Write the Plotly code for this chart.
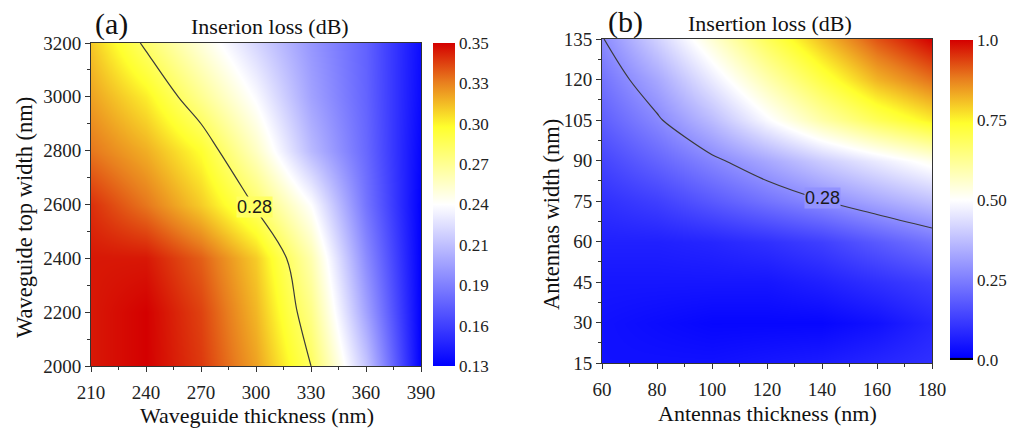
import plotly.graph_objects as go

# ---------------- Panel (a) data ----------------
a_thickness = [210, 240, 270, 300, 330, 360, 390]          # nm (x)
a_width = [2000, 2200, 2400, 2600, 2800, 3000, 3200]        # nm (y)
a_loss = [
    [0.345, 0.350, 0.338, 0.315, 0.280, 0.215, 0.130],  # 2000
    [0.345, 0.350, 0.336, 0.310, 0.270, 0.200, 0.130],  # 2200
    [0.345, 0.345, 0.330, 0.305, 0.260, 0.190, 0.130],  # 2400
    [0.340, 0.325, 0.305, 0.278, 0.240, 0.180, 0.130],  # 2600
    [0.325, 0.312, 0.292, 0.255, 0.210, 0.175, 0.132],  # 2800
    [0.315, 0.297, 0.268, 0.238, 0.200, 0.173, 0.134],  # 3000
    [0.306, 0.277, 0.249, 0.222, 0.195, 0.172, 0.135],  # 3200
]
a_cb_vals = [0.13, 0.1575, 0.185, 0.2125, 0.24, 0.2675, 0.295, 0.3225, 0.35]
a_cb_text = ["0.13", "0.16", "0.19", "0.21", "0.24", "0.27", "0.30", "0.33", "0.35"]
a_xticks = [210, 240, 270, 300, 330, 360, 390]
a_yticks = [2000, 2200, 2400, 2600, 2800, 3000, 3200]
a_label_pos = (299, 2590)

# ---------------- Panel (b) data ----------------
b_thickness = [60, 80, 100, 120, 140, 160, 180]
b_width = [15, 30, 45, 60, 75, 90, 105, 120, 135]
b_loss = [
    [0.04, 0.04, 0.04, 0.05, 0.06, 0.08, 0.10],    # 15
    [0.04, 0.03, 0.02, 0.02, 0.02, 0.04, 0.08],    # 30
    [0.05, 0.05, 0.05, 0.05, 0.07, 0.10, 0.13],    # 45
    [0.07, 0.07, 0.08, 0.10, 0.13, 0.18, 0.23],    # 60
    [0.10, 0.13, 0.18, 0.23, 0.277, 0.33, 0.38],   # 75
    [0.14, 0.20, 0.265, 0.33, 0.40, 0.46, 0.52],   # 90
    [0.19, 0.27, 0.37, 0.49, 0.60, 0.69, 0.76],    # 105
    [0.23, 0.33, 0.46, 0.59, 0.71, 0.82, 0.89],    # 120
    [0.275, 0.41, 0.55, 0.69, 0.81, 0.92, 1.00],   # 135
]
b_cb_vals = [0.0, 0.25, 0.5, 0.75, 1.0]
b_cb_text = ["0.0", "0.25", "0.50", "0.75", "1.0"]
b_xticks = [60, 80, 100, 120, 140, 160, 180]
b_yticks = [15, 30, 45, 60, 75, 90, 105, 120, 135]
b_label_pos = (140, 76)

contour_level = 0.28

W, H = 1011, 431
SERIF = "Liberation Serif, Times New Roman, serif"
SANS = "Liberation Sans, Arial, sans-serif"

def px(x):
    return x / W

def py(y):
    return 1 - y / H

cs_a = [[0.0, "rgb(0,0,255)"], [0.5, "rgb(255,255,255)"], [0.74, "rgb(255,255,45)"],
        [0.88, "rgb(232,125,30)"], [1.0, "rgb(212,0,0)"]]
cs_b = [[0.0, "rgb(0,0,0)"], [0.006, "rgb(0,0,0)"], [0.008, "rgb(0,0,255)"],
        [0.5, "rgb(255,255,255)"], [0.74, "rgb(255,255,45)"],
        [0.88, "rgb(232,125,30)"], [1.0, "rgb(212,0,0)"]]

fig = go.Figure()

fig.add_trace(go.Heatmap(
    x=a_thickness, y=a_width, z=a_loss, zsmooth="best",
    colorscale=cs_a, zmin=0.13, zmax=0.35, xaxis="x", yaxis="y",
    colorbar=dict(x=px(433), xanchor="left", xpad=0, y=py(204.5), yanchor="middle",
                  len=323, lenmode="pixels", thickness=22, ypad=0,
                  outlinewidth=0, ticks="", tickvals=a_cb_vals, ticktext=a_cb_text,
                  tickfont=dict(family=SERIF, size=17, color="#222")),
))
fig.add_trace(go.Contour(
    x=a_thickness, y=a_width, z=a_loss, xaxis="x", yaxis="y", showscale=False,
    contours=dict(coloring="none", start=contour_level, end=contour_level, size=0.01,
                  showlabels=False),
    line=dict(color="#3a3a3a", width=1.2), hoverinfo="skip",
))

fig.add_trace(go.Heatmap(
    x=b_thickness, y=b_width, z=b_loss, zsmooth="best",
    colorscale=cs_b, zmin=0.0, zmax=1.0, xaxis="x2", yaxis="y2",
    colorbar=dict(x=px(950), xanchor="left", xpad=0, y=py(200), yanchor="middle",
                  len=320, lenmode="pixels", thickness=23, ypad=0,
                  outlinewidth=0, ticks="", tickvals=b_cb_vals, ticktext=b_cb_text,
                  tickfont=dict(family=SERIF, size=17, color="#222")),
))
fig.add_trace(go.Contour(
    x=b_thickness, y=b_width, z=b_loss, xaxis="x2", yaxis="y2", showscale=False,
    contours=dict(coloring="none", start=contour_level, end=contour_level, size=0.01,
                  showlabels=False),
    line=dict(color="#3a3a3a", width=1.2), hoverinfo="skip",
))

axis_common = dict(showline=True, mirror=True, linecolor="#333", linewidth=1,
                   ticks="outside", ticklen=5, tickcolor="#333", tickwidth=1,
                   showgrid=False, zeroline=False,
                   tickfont=dict(family=SERIF, size=19, color="#222"))

fig.update_layout(
    width=W, height=H, margin=dict(l=0, r=0, t=0, b=0, autoexpand=False),
    paper_bgcolor="white", plot_bgcolor="white", showlegend=False,
    xaxis=dict(domain=[px(91), px(421)], range=[210, 390], tickvals=a_xticks,
               minor=dict(ticks="outside", ticklen=3, dtick=15, tick0=210, tickcolor="#333"),
               anchor="y", ticklabelstandoff=4, **axis_common),
    yaxis=dict(domain=[py(366), py(43)], range=[2000, 3200], tickvals=a_yticks,
               minor=dict(ticks="outside", ticklen=3, dtick=100, tick0=2000, tickcolor="#333"),
               anchor="x", **axis_common),
    xaxis2=dict(domain=[px(602), px(932)], range=[60, 180], tickvals=b_xticks,
                minor=dict(ticks="outside", ticklen=3, dtick=10, tick0=60, tickcolor="#333"),
                anchor="y2", ticklabelstandoff=4, **axis_common),
    yaxis2=dict(domain=[py(363), py(39)], range=[15, 135], tickvals=b_yticks,
                minor=dict(ticks="outside", ticklen=3, dtick=7.5, tick0=15, tickcolor="#333"),
                anchor="x2", **axis_common),
)

def ann(text, x, y, size, angle=0, family=SERIF):
    fig.add_annotation(text=text, x=px(x), y=py(y), xref="paper", yref="paper",
                       showarrow=False, xanchor="center", yanchor="middle",
                       textangle=angle, font=dict(family=family, size=size, color="#111"))

ann("(a)", 111, 24, 30)
ann("Inserion loss (dB)", 270, 26, 22)
ann("Waveguide thickness (nm)", 257, 415, 22)
ann("Waveguide top width (nm)", 24, 218, 22.5, angle=-90)

ann("(b)", 625, 22, 30)
ann("Insertion loss (dB)", 770, 23, 22)
ann("Antennas thickness (nm)", 767, 413, 22)
ann("Antennas width (nm)", 551, 215, 22.5, angle=-90)

# contour labels (horizontal, breaking the line like the original)
fig.add_annotation(text="0.28", x=a_label_pos[0], y=a_label_pos[1], xref="x", yref="y",
                   showarrow=False, bgcolor="rgb(255,255,98)", borderpad=0,
                   font=dict(family=SANS, size=18, color="#1a1a1a"))
fig.add_annotation(text="0.28", x=b_label_pos[0], y=b_label_pos[1], xref="x2", yref="y2",
                   showarrow=False, bgcolor="rgb(146,146,255)", borderpad=0,
                   font=dict(family=SANS, size=18, color="#1a1a1a"))

fig.write_html("out.html")
